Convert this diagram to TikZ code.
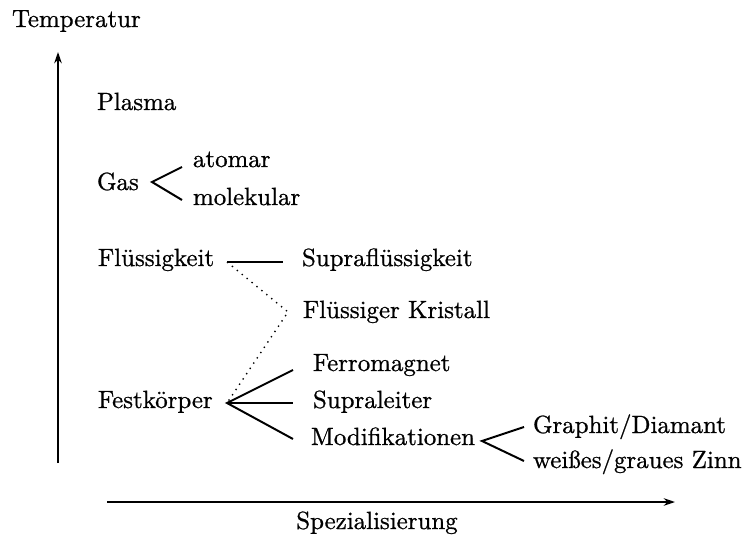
\documentclass[tikz,border=0pt]{standalone}
\usepackage{fontspec}
\setmainfont{lmroman10-regular.otf}[FakeBold=0.8]
\usetikzlibrary{arrows.meta}
\begin{document}
\begin{tikzpicture}[x=0.4016pt,y=-0.4016pt,
  lbl/.style={anchor=base west,inner sep=0pt,outer sep=0pt},
  branch/.style={line width=0.8pt},
  axis/.style={line width=0.75pt,-{Stealth[length=4.5pt,width=3pt]}},
  dots/.style={line width=0.55pt,dotted}]
\useasboundingbox (0,0) rectangle (744,540);
% labels
\node[lbl] (temp) at (12,27) {Temperatur};
\node[lbl] (plasma) at (97,110) {Plasma};
\node[lbl] (gas) at (97,190) {Gas};
\node[lbl] (atomar) at (193,167) {atomar};
\node[lbl] (molek) at (193,205) {molekular};
\node[lbl] (fluess) at (98,266) {Flüssigkeit};
\node[lbl] (supfl) at (302,266) {Supraflüssigkeit};
\node[lbl] (krist) at (303,318) {Flüssiger Kristall};
\node[lbl] (fest) at (98,408) {Festkörper};
\node[lbl] (ferro) at (313,371) {Ferromagnet};
\node[lbl] (supl) at (313,408) {Supraleiter};
\node[lbl] (modif) at (311,445) {Modifikationen};
\node[lbl] (graph) at (533,433) {Graphit/Diamant};
\node[lbl] (zinn) at (533,468) {weißes/graues Zinn};
\node[anchor=base,inner sep=0pt] (spez) at (377,529) {Spezialisierung};
% fork points
\coordinate (gasf) at (152,182);
\coordinate (atomf) at (182,167);
\coordinate (molf) at (182,200);
\coordinate (flf) at (227,262);
\coordinate (supflf) at (283,262);
\coordinate (kristf) at (288,312);
\coordinate (festf) at (227,403);
\coordinate (ferrof) at (293,370);
\coordinate (suplf) at (293,403);
\coordinate (modiff) at (293,439);
\coordinate (modf) at (482,441);
\coordinate (graphf) at (524,427);
\coordinate (zinnf) at (524,461);
\coordinate (vbot) at (58,463);
\coordinate (vtop) at (58,52);
\coordinate (hleft) at (107,502);
\coordinate (hright) at (675,502);
% axes
\draw[axis] (vbot) -- (vtop);
\draw[axis] (hleft) -- (hright);
% branches
\draw[branch] (atomf) -- (gasf) -- (molf);
\draw[branch] (flf) -- (supflf);
\draw[dots] (flf) -- (kristf) -- (festf);
\draw[branch] (ferrof) -- (festf) -- (modiff);
\draw[branch] (festf) -- (suplf);
\draw[branch] (graphf) -- (modf) -- (zinnf);
\end{tikzpicture}
\end{document}
